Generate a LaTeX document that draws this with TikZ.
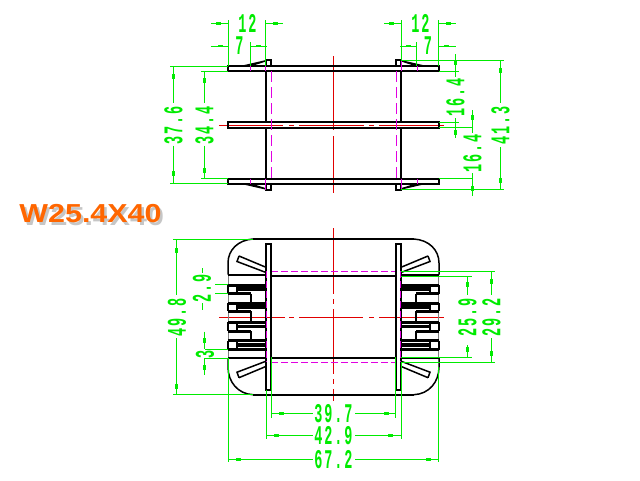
\documentclass[tikz,border=0pt]{standalone}
\usepackage{fontspec}
\usetikzlibrary{calc}
\newfontfamily\dimfont{Liberation Mono}[BoldFont={Liberation Mono Bold},BoldFeatures={LetterSpace=14}]
\newfontfamily\titlefont{Liberation Sans}[BoldFont={Liberation Sans Bold}]
\definecolor{dimgreen}{RGB}{0,235,0}
\definecolor{axisred}{RGB}{225,0,0}
\definecolor{hidmag}{RGB}{225,0,225}
\definecolor{titleorange}{RGB}{255,102,0}
\newcommand{\dm}[1]{\scalebox{.5}[1]{\dimfont\bfseries #1}}
\newcommand{\ttltxt}{\scalebox{1.17}[1]{\titlefont\bfseries\fontsize{26}{26}\selectfont W25.4X40}}
\tikzset{
  body/.style={black, line width=2pt},
  hidden/.style={hidmag, line width=1pt, dash pattern=on 7pt off 3pt},
  hiddentop/.style={hidmag, line width=1pt, dash pattern=on 11pt off 5pt},
  axis/.style={axisred, line width=.9pt},
  dim/.style={dimgreen, line width=.9pt},
  dimlabel/.style={text=dimgreen, inner sep=0pt, font=\fontsize{27}{27}\selectfont},
}
\newcommand{\hblob}[2]{\fill[dimgreen] (#1-2.5,#2-1.3) rectangle (#1+2.5,#2+1.3);}
\newcommand{\vblob}[2]{\fill[dimgreen] (#1-1.3,#2-2.5) rectangle (#1+1.3,#2+2.5);}
\begin{document}
\begin{tikzpicture}[x=1pt,y=-1pt]
  \useasboundingbox[fill=white] (0,0) rectangle (640,480);
  % title, grey shadow under it
  \node[text=gray!45] (titleb) at (93,216.5) {\ttltxt};
  \node[text=titleorange] (title) at (90.5,214) {\ttltxt};

  % top view, axes
  \draw[axis] (333,56) -- (333,130) (333,136) -- (333,192.5);
  \draw[axis] (219,125) -- (283,125) (289,125) -- (294,125) (299,125) -- (364,125)
    (369,125) -- (374,125) (379,125) -- (444,125);
  % top view, flanges
  \foreach \ya/\yb in {66/71, 122/127.7, 178.7/183.7} {
    \draw[body] (228,\ya) rectangle (439,\yb);
  }
  \foreach \sx/\ox in {1/0, -1/667} {
    \begin{scope}[shift={(\ox,0)}, xscale=\sx]
      \draw[body] (266,71) -- (266,122) (266,127.7) -- (266,178.7);
      \draw[body] (266,66) -- (266,60.3) -- (271,60.3) -- (271,66);
      \draw[body] (266,183.7) -- (266,189.7) -- (271,189.7) -- (271,183.7);
      \fill (240,66) -- (266,60) -- (266,61.5) -- (252,66) -- cycle;
      \fill (240,183.7) -- (266,189.7) -- (266,188.2) -- (252,183.7) -- cycle;
      \draw[hiddentop] (271,71) -- (271,178.7);
      \draw[hidmag, line width=1pt] (250,66) -- (250,71) (265.5,60.5) -- (265.5,71)
        (250,178.7) -- (250,183.7) (265.5,178.7) -- (265.5,189.5);
    \end{scope}
  }

  % bottom view, axes
  \draw[axis] (333.3,228) -- (333.3,293.7) (333.3,299) -- (333.3,304) (333.3,309) -- (333.3,373.7)
    (333.3,379) -- (333.3,384) (333.3,389) -- (333.3,400.7);
  \draw[axis] (219,317.5) -- (285,317.5) (289,317.5) -- (294,317.5) (299,317.5) -- (363,317.5)
    (369,317.5) -- (374,317.5) (379,317.5) -- (444,317.5);
  % bottom view, body
  \draw[body] (253,239) -- (414,239) (253,394.7) -- (414,394.7);
  \draw[body] (271,275.7) -- (396,275.7) (271,357.7) -- (396,357.7);
  \draw[hidden] (271,271.3) -- (396,271.3) (271,362.3) -- (396,362.3);
  \foreach \sx/\ox in {1/0, -1/667} {
    \begin{scope}[shift={(\ox,0)}, xscale=\sx]
      \draw[gray, line width=1pt] (228.3,275) -- (228.3,358);
      \draw[black, line width=1.5pt] (253,239) .. controls (238,240) and (228,250) .. (228,263) -- (228,274.5);
      \draw[black, line width=1.5pt] (253,394.7) .. controls (238,394) and (228,382) .. (228,367) -- (228,358);
      \draw[body] (228,275) -- (266,275) (228,358) -- (266,358);
      \draw[body] (265.8,243.7) rectangle (271,390);
      \draw[black, line width=1.5pt] (239,256) -- (237,261.5) -- (266,272.5) (239,256) -- (266,267.3);
      \draw[black, line width=1.5pt] (239,377.7) -- (237,372.2) -- (266,361.2) (239,377.7) -- (266,366.4);
      % comb teeth
      \foreach \yt/\yf/\yl in {285.2/288.9/293.5, 303/307.2/311, 322.1/326.6/331.3, 340.6/345.1/349.7} {
        \draw[black, line width=3pt] (228,\yt) -- (266,\yt) (228,\yl) -- (250.7,\yl);
        \draw[black, line width=3.6pt] (237,\yf) -- (266,\yf);
        \draw[black, line width=1.7pt] (228,\yt) -- (228,\yl) (237,\yt) -- (237,\yl);
      }
      \draw[black, line width=3pt] (250,349.7) -- (266,349.7);
      \draw[black, line width=1.8pt] (250.7,293.5) -- (250.7,303) (250.7,311) -- (250.7,322.1) (250.7,331.3) -- (250.7,340.6);
      \draw[hidden] (266.3,271.3) -- (266.3,362.3);
    \end{scope}
  }

  % dims, top view
  \draw[dim] (228,20) -- (228,66) (265.5,20) -- (265.5,66) (250,42) -- (250,66);
  \draw[dim] (211,23.3) -- (228,23.3) (265.5,23.3) -- (283,23.3);
  \draw[dim] (210.7,46) -- (228,46) (250,46) -- (267,46);
  \draw[dim] (401.3,20) -- (401.3,60.3) (438.3,20) -- (438.3,66) (416.3,42) -- (416.3,66);
  \draw[dim] (384,23.3) -- (401.3,23.3) (438.3,23.3) -- (456,23.3);
  \draw[dim] (400,46) -- (416.3,46) (438.3,46) -- (456,46);
  \hblob{218.3}{23.3} \hblob{275.7}{23.3} \hblob{220}{46} \hblob{258.3}{46}
  \hblob{391}{23.3} \hblob{448.7}{23.3} \hblob{408}{46} \hblob{446.7}{46}
  \node[dimlabel] (dima) at (247.5,23) {\dm{12}};
  \node[dimlabel] (dimb) at (239.5,46) {\dm{7}};
  \node[dimlabel] (dimc) at (420.5,23) {\dm{12}};
  \node[dimlabel] (dimd) at (428,46) {\dm{7}};

  \draw[dim] (170,66) -- (228,66) (170,183.3) -- (228,183.3);
  \draw[dim] (173.3,66) -- (173.3,102.7) (173.3,145.7) -- (173.3,183.3);
  \draw[dim] (201,71) -- (228,71) (201,178.3) -- (228,178.3);
  \draw[dim] (204.3,71) -- (204.3,102.7) (204.3,145.7) -- (204.3,178.3);
  \vblob{173.3}{76} \vblob{173.3}{173} \vblob{204.3}{80} \vblob{204.3}{170}
  \node[dimlabel, rotate=90] (dime) at (173.5,125) {\dm{37.6}};
  \node[dimlabel, rotate=90] (dimf) at (204.5,125) {\dm{34.4}};

  \draw[dim] (401,60.3) -- (503.7,60.3) (401,189) -- (503.7,189);
  \draw[dim] (500.3,60.3) -- (500.3,102.7) (500.3,147) -- (500.3,189);
  \draw[dim] (439,71) -- (459,71) (439,122) -- (459,122);
  \draw[dim] (439,127.7) -- (472,127.7) (439,178) -- (472,178);
  \draw[dim] (455.3,54) -- (455.3,76.7) (455.3,118) -- (455.3,138);
  \draw[dim] (472.3,110) -- (472.3,133) (472.3,173) -- (472.3,195.7);
  \vblob{455.3}{62.5} \vblob{455.3}{132} \vblob{472.3}{117} \vblob{472.3}{188} \vblob{500.3}{70} \vblob{500.3}{180}
  \node[dimlabel, rotate=90] (dimg) at (455.5,97.5) {\dm{16.4}};
  \node[dimlabel, rotate=90] (dimh) at (472.5,153) {\dm{16.4}};
  \node[dimlabel, rotate=90] (dimi) at (500.5,125) {\dm{41.3}};

  % dims, bottom view
  \draw[dim] (173,239) -- (253,239) (173,394.7) -- (253,394.7);
  \draw[dim] (176.7,239) -- (176.7,295) (176.7,338) -- (176.7,394.7);
  \vblob{176.7}{250} \vblob{176.7}{386}
  \node[dimlabel, rotate=90] (dimj) at (177,317) {\dm{49.8}};

  \draw[dim] (215,284.3) -- (228,284.3) (215,293.3) -- (228,293.3);
  \draw[dim] (202.3,268) -- (202.3,273) (202.3,303) -- (202.3,310);
  \node[dimlabel, rotate=90] (dimk) at (202,288.3) {\dm{2.9}};

  \draw[dim] (205,349.3) -- (228,349.3) (205,358.3) -- (228,358.3);
  \draw[dim] (204.7,331.7) -- (204.7,349.3) (204.7,358.3) -- (204.7,375);
  \vblob{204.7}{340} \vblob{204.7}{367}
  \node[dimlabel, rotate=90] (diml) at (205,354) {\dm{3}};

  \draw[dim] (401,276) -- (471.7,276) (401,357.3) -- (471.7,357.3);
  \draw[dim] (467.3,276) -- (467.3,295) (467.3,345) -- (467.3,357.3);
  \draw[dim] (401,271.3) -- (495,271.3) (401,362.3) -- (495,362.3);
  \draw[dim] (491.3,271.3) -- (491.3,295) (491.3,338) -- (491.3,362.3);
  \vblob{467.3}{284} \vblob{467.3}{349} \vblob{491.3}{281} \vblob{491.3}{353}
  \node[dimlabel, rotate=90] (dimm) at (467.5,317) {\dm{25.9}};
  \node[dimlabel, rotate=90] (dimn) at (491.5,317) {\dm{29.2}};

  \draw[dim] (271.3,357) -- (271.3,417.7) (395.7,357) -- (395.7,417.7);
  \draw[dim] (271.3,413.3) -- (313,413.3) (355,413.3) -- (395.7,413.3);
  \draw[dim] (266.3,390) -- (266.3,439) (401,362) -- (401,439);
  \draw[dim] (266.3,435.7) -- (313,435.7) (355,435.7) -- (401,435.7);
  \draw[dim] (228.3,358) -- (228.3,462) (438.5,367) -- (438.5,462);
  \draw[dim] (228.3,459.3) -- (313,459.3) (355,459.3) -- (438.5,459.3);
  \hblob{281}{413.3} \hblob{386.7}{413.3} \hblob{276.7}{435.7} \hblob{390.7}{435.7} \hblob{238}{459.3} \hblob{428}{459.3}
  \node[dimlabel] (dimo) at (333.5,413.3) {\dm{39.7}};
  \node[dimlabel] (dimp) at (333.5,435.7) {\dm{42.9}};
  \node[dimlabel] (dimq) at (333.5,459.3) {\dm{67.2}};
\end{tikzpicture}
\end{document}
